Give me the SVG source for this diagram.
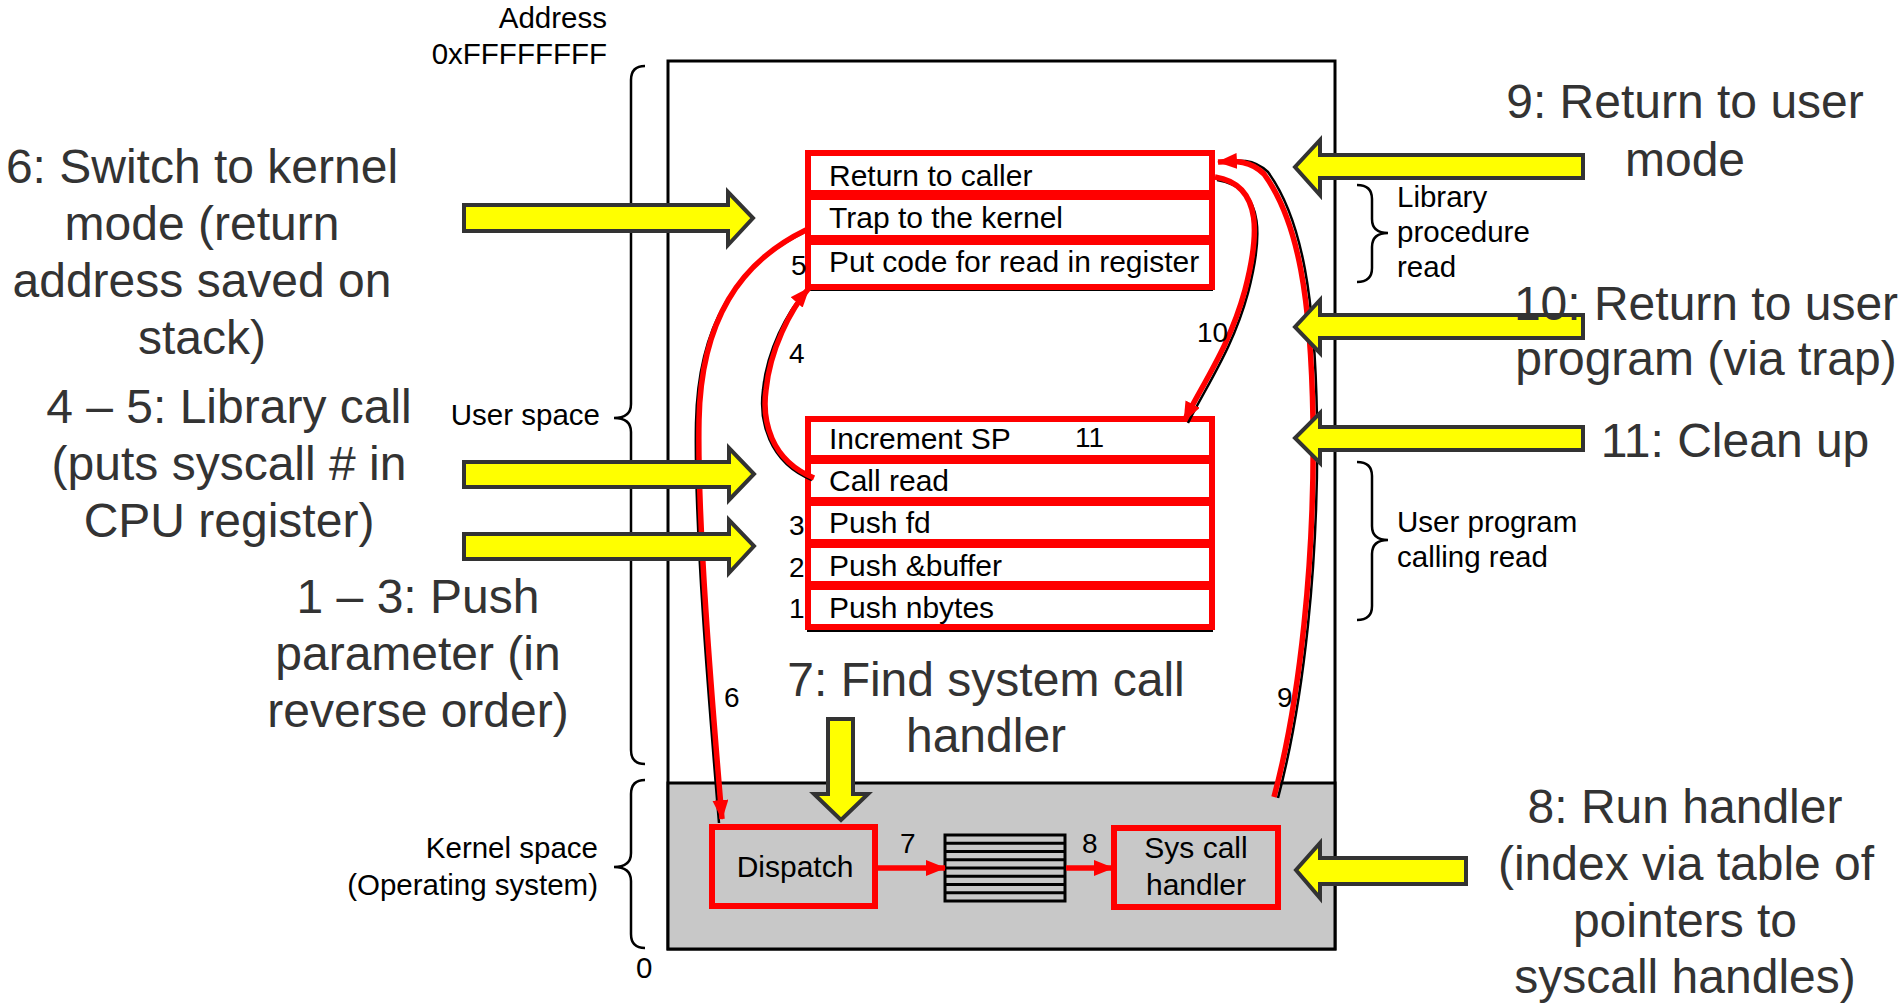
<svg xmlns="http://www.w3.org/2000/svg" width="1901" height="1004" viewBox="0 0 1901 1004">
<defs>
<style>
text{font-family:"Liberation Sans",Arial,sans-serif}
.big{font-size:48px;fill:#333;text-anchor:middle}
.sm{font-size:29.5px;fill:#000}
.row{font-size:30px;fill:#000}
.num{font-size:28px;fill:#000}
.cell{fill:#fff;stroke:#f00;stroke-width:6}
.kbox{fill:#c8c8c8;stroke:#f00;stroke-width:6}
.brace{fill:none;stroke:#000;stroke-width:2.5}
.ya{fill:#ffff00;stroke:#333;stroke-width:4;stroke-linejoin:miter}
.red{fill:none;stroke:#f00;stroke-width:5.5}
.blk{fill:none;stroke:#000;stroke-width:2.5}
</style>
<marker id="ah" viewBox="0 0 20 16" refX="19" refY="8" markerWidth="20" markerHeight="16" markerUnits="userSpaceOnUse" orient="auto"><path d="M0 0 L20 8 L0 16 Z" fill="#f00"/></marker>
</defs>
<rect width="1901" height="1004" fill="#fff"/>

<g id="memory">
<rect x="668" y="61" width="667" height="888" fill="#fff" stroke="#000" stroke-width="3"/>
<rect x="668" y="783" width="667" height="166" fill="#c8c8c8" stroke="#000" stroke-width="3"/>
</g>

<g id="address-labels">
<text class="sm" x="607" y="28" text-anchor="end">Address</text>
<text class="sm" x="607" y="64" text-anchor="end">0xFFFFFFFF</text>
<text class="sm" x="636" y="978">0</text>
</g>

<g id="user-space-brace">
<path class="brace" d="M645 66 Q631 66 631 80 L631 404 Q631 418 614 418 Q631 418 631 432 L631 750 Q631 764 645 764"/>
<text class="sm" x="600" y="425" text-anchor="end">User space</text>
</g>
<g id="kernel-space-brace">
<path class="brace" d="M645 780 Q631 780 631 794 L631 853 Q631 867 614 867 Q631 867 631 881 L631 934 Q631 948 645 948"/>
<text class="sm" x="598" y="858" text-anchor="end">Kernel space</text>
<text class="sm" x="598" y="895" text-anchor="end">(Operating system)</text>
</g>
<g id="library-brace">
<path class="brace" d="M1357 185 Q1372 185 1372 199 L1372 219 Q1372 233 1388 233 Q1372 233 1372 247 L1372 268 Q1372 282 1357 282"/>
<text class="sm" x="1397" y="207">Library</text>
<text class="sm" x="1397" y="242">procedure</text>
<text class="sm" x="1397" y="277">read</text>
</g>
<g id="user-program-brace">
<path class="brace" d="M1357 462 Q1372 462 1372 476 L1372 526 Q1372 540 1388 540 Q1372 540 1372 554 L1372 606 Q1372 620 1357 620"/>
<text class="sm" x="1397" y="532">User program</text>
<text class="sm" x="1397" y="567">calling read</text>
</g>

<g id="library-procedure">
<rect x="808" y="156" width="404" height="134" fill="none" stroke="#000" stroke-width="2"/>
<rect class="cell" x="808" y="153" width="404" height="40"/>
<rect class="cell" x="808" y="197" width="404" height="41"/>
<rect class="cell" x="808" y="242" width="404" height="45"/>
<text class="row" x="829" y="186">Return to caller</text>
<text class="row" x="829" y="228">Trap to the kernel</text>
<text class="row" x="829" y="272">Put code for read in register</text>
</g>

<g id="user-program">
<rect x="808" y="421" width="404" height="210" fill="none" stroke="#000" stroke-width="2"/>
<rect class="cell" x="808" y="419" width="404" height="39"/>
<rect class="cell" x="808" y="461" width="404" height="39"/>
<rect class="cell" x="808" y="503" width="404" height="39"/>
<rect class="cell" x="808" y="545" width="404" height="39"/>
<rect class="cell" x="808" y="587" width="404" height="40"/>
<text class="row" x="829" y="449">Increment SP</text>
<text class="row" x="829" y="491">Call read</text>
<text class="row" x="829" y="533">Push fd</text>
<text class="row" x="829" y="576">Push &amp;buffer</text>
<text class="row" x="829" y="618">Push nbytes</text>
</g>

<g id="dispatch">
<rect class="kbox" x="712" y="827" width="163" height="79"/>
<text class="row" x="795" y="877" text-anchor="middle">Dispatch</text>
</g>
<g id="syscall-table">
<rect x="945" y="835" width="120" height="66" fill="#c8c8c8" stroke="#000" stroke-width="3"/>
<path d="M945 843.25H1065M945 851.5H1065M945 859.75H1065M945 868H1065M945 876.25H1065M945 884.5H1065M945 892.75H1065" stroke="#000" stroke-width="3"/>
</g>
<g id="syscall-handler">
<rect class="kbox" x="1114" y="828" width="164" height="79"/>
<text class="row" x="1196" y="858" text-anchor="middle">Sys call</text>
<text class="row" x="1196" y="895" text-anchor="middle">handler</text>
</g>

<g id="connectors">
<path class="blk" d="M812 480 C768 462, 759 420, 763 390 C767 350, 787 312, 806 291"/>
<path class="red" d="M814 478 C770 460, 762 420, 766 390 C770 350, 790 310, 809 288" marker-end="url(#ah)"/>
<path class="blk" d="M803 233 C737 266, 698 323, 696 423 C694 523, 709 703, 719 823"/>
<path class="red" d="M806 230 C740 262, 701 320, 699 420 C697 520, 712 700, 722 819" marker-end="url(#ah)"/>
<path class="blk" d="M1217 180 C1268 188, 1261 243, 1248 293 C1233 348, 1208 383, 1188 423"/>
<path class="red" d="M1215 177 C1265 185, 1258 240, 1245 290 C1230 345, 1205 380, 1184 421" marker-end="url(#ah)"/>
<path class="blk" d="M1278 798 C1304 700, 1319 560, 1317 420 C1315 300, 1303 220, 1268 172 C1253 158, 1238 160, 1220 162"/>
<path class="red" d="M1274 797 C1300 700, 1315 560, 1313 420 C1311 300, 1299 222, 1264 174 C1250 160, 1236 161, 1218 162" marker-end="url(#ah)"/>
<line class="red" x1="876" y1="868" x2="945" y2="868" stroke-width="5" marker-end="url(#ah)"/>
<line class="red" x1="1066" y1="868" x2="1113" y2="868" stroke-width="5" marker-end="url(#ah)"/>
</g>

<g id="step-numbers">
<text class="num" x="791" y="275">5</text>
<text class="num" x="789" y="363">4</text>
<text class="num" x="1197" y="342">10</text>
<text class="num" x="1075" y="447">11</text>
<text class="num" x="789" y="535">3</text>
<text class="num" x="789" y="577">2</text>
<text class="num" x="789" y="618">1</text>
<text class="num" x="724" y="707">6</text>
<text class="num" x="1277" y="707">9</text>
<text class="num" x="900" y="853">7</text>
<text class="num" x="1082" y="853">8</text>
</g>

<g id="yellow-arrows">
<path class="ya" d="M464 205 H728 V192 L753 218 L728 245 V231 H464 Z"/>
<path class="ya" d="M464 462 H729 V448 L754 474 L729 500 V487 H464 Z"/>
<path class="ya" d="M464 534 H729 V520 L754 546 L729 573 V559 H464 Z"/>
<path class="ya" d="M1583 155 H1320 V140 L1295 167 L1320 195 V178 H1583 Z"/>
<path class="ya" d="M1583 315 H1320 V300 L1295 327 L1320 353 V338 H1583 Z"/>
<path class="ya" d="M1583 427 H1320 V413 L1295 438 L1320 463 V450 H1583 Z"/>
<path class="ya" d="M1466 858 H1320 V843 L1296 870 L1320 898 V884 H1466 Z"/>
<path class="ya" d="M828 719 H853 V794 H868 L841 820 L814 794 H828 Z"/>
</g>

<g id="step-labels">
<text class="big" x="202" y="183">6: Switch to kernel</text>
<text class="big" x="202" y="240">mode (return</text>
<text class="big" x="202" y="297">address saved on</text>
<text class="big" x="202" y="354">stack)</text>
<text class="big" x="229" y="423">4 – 5: Library call</text>
<text class="big" x="229" y="480">(puts syscall # in</text>
<text class="big" x="229" y="537">CPU register)</text>
<text class="big" x="418" y="613">1 – 3: Push</text>
<text class="big" x="418" y="670">parameter (in</text>
<text class="big" x="418" y="727">reverse order)</text>
<text class="big" x="986" y="696">7: Find system call</text>
<text class="big" x="986" y="752">handler</text>
<text class="big" x="1685" y="118">9: Return to user</text>
<text class="big" x="1685" y="176">mode</text>
<text class="big" x="1706" y="320">10: Return to user</text>
<text class="big" x="1706" y="375">program (via trap)</text>
<text class="big" x="1735" y="457">11: Clean up</text>
<text class="big" x="1685" y="823">8: Run handler</text>
<text class="big" x="1686" y="880">(index via table of</text>
<text class="big" x="1685" y="937">pointers to</text>
<text class="big" x="1685" y="993">syscall handles)</text>
</g>
</svg>
